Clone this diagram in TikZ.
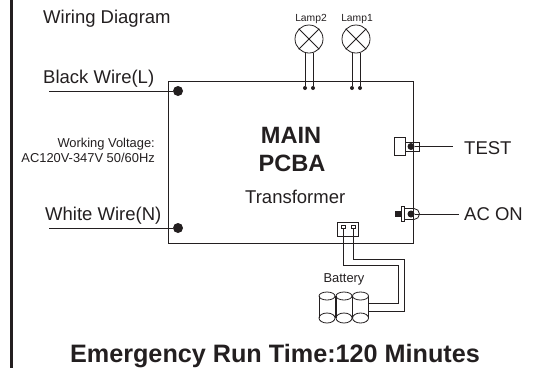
\documentclass[tikz,border=0pt]{standalone}
\usepackage{fontspec}
\setmainfont{Liberation Sans}
\definecolor{ink}{HTML}{231F20}
\begin{document}
\begin{tikzpicture}[x=1pt,y=-1pt,
    every node/.style={text=ink},
    wire/.style={draw=ink, line width=0.9pt},
    thinwire/.style={draw=ink, line width=0.8pt},
    terminal/.style={circle, fill=ink, inner sep=0pt, minimum size=10pt},
    solder/.style={circle, fill=ink, inner sep=0pt, minimum size=4pt},
    pin/.style={circle, fill=ink, inner sep=0pt, minimum size=7pt},
    lamp/.style={circle, draw=ink, line width=0.8pt, inner sep=0pt, minimum size=28pt},
    part/.style={rectangle, draw=ink, line width=0.7pt, inner sep=0pt},
    label/.style={inner sep=0pt, font=\fontsize{18.5}{21}\selectfont},
    smalllabel/.style={inner sep=0pt, anchor=base, font=\fontsize{10.3}{12}\selectfont},
    tinylabel/.style={inner sep=0pt, font=\fontsize{12.9}{15}\selectfont},
    title/.style={inner sep=0pt, align=center, font=\bfseries\fontsize{23.6}{28}\selectfont}]
   \useasboundingbox (0,0) rectangle (535,368);
   \node[rectangle, fill=ink, inner sep=0pt, minimum width=3pt, minimum height=368pt] (frame) at (11,184) {};
   % main board
   \node[part, line width=0.9pt, minimum width=245pt, minimum height=162pt] (board) at (290.5,162) {};
   \node[title] (main) at (291,135) {MAIN};
   \node[title] (pcba) at (292,163) {PCBA};
   \node[label, anchor=west] (transformer) at (245,197) {Transformer};
   % mains side
   \node[label, anchor=west] (wiring) at (43,18.5) {Wiring Diagram};
   \node[label, anchor=west] (black) at (43,79) {Black Wire(L)};
   \node[label, anchor=west] (white) at (45,216) {White Wire(N)};
   \node[terminal] (L) at (178,91) {};
   \node[terminal] (N) at (178,228) {};
   \coordinate (Lend) at (49,91);
   \coordinate (Nend) at (49,228);
   \draw[wire] (Lend) to (L);
   \draw[wire] (Nend) to (N);
   \node[tinylabel, align=right, anchor=east] (voltage) at (155,150) {Working Voltage:\\AC120V-347V 50/60Hz};
   % lamps
   \node[smalllabel] (lamp2text) at (311,21) {Lamp2};
   \node[smalllabel] (lamp1text) at (357,21) {Lamp1};
   \node[lamp] (lamp2) at (309,39) {};
   \node[lamp] (lamp1) at (356,39) {};
   \draw[thinwire] (lamp2.north west) to (lamp2.south east);
   \draw[thinwire] (lamp2.north east) to (lamp2.south west);
   \draw[thinwire] (lamp1.north west) to (lamp1.south east);
   \draw[thinwire] (lamp1.north east) to (lamp1.south west);
   \node[solder] (a) at (305,88) {};
   \node[solder] (b) at (313,88) {};
   \node[solder] (c) at (352,88) {};
   \node[solder] (d) at (360,88) {};
   \draw[thinwire] (a |- lamp2.south) to (a);
   \draw[thinwire] (b |- lamp2.south) to (b);
   \draw[thinwire] (c |- lamp1.south) to (c);
   \draw[thinwire] (d |- lamp1.south) to (d);
   % test switch
   \node[part, fill=white, minimum width=11pt, minimum height=18pt] (button) at (399.5,146) {};
   \node[part, minimum width=14pt, minimum height=9pt] (switch) at (412,146.5) {};
   \node[pin] (testpin) at (411,146.5) {};
   \node[label, anchor=west] (test) at (464,148) {TEST};
   \coordinate (testend) at (453,146.5);
   \draw[wire] (testpin) to (testend);
   % indicator
   \node[rectangle, fill=ink, inner sep=0pt, minimum width=6pt, minimum height=6pt] (leads) at (398,214) {};
   \node[part, fill=white, minimum width=3pt, minimum height=15pt] (flange) at (402.5,214) {};
   \node[pin] (acpin) at (411,214) {};
   \draw[thinwire] (flange.east |- 0,208.5) -- (414,208.5) arc (-90:90:5.5) -- (flange.east |- 0,219.5);
   \node[label, anchor=west] (acon) at (464,214) {AC ON};
   \coordinate (acend) at (459,214);
   \draw[wire] (acpin) to (acend);
   % battery connector
   \node[part, line width=1pt, minimum width=21pt, minimum height=14pt] (socket) at (347.5,229) {};
   \node[part, minimum width=4pt, minimum height=3pt] (s1) at (343,227) {};
   \node[part, minimum width=4pt, minimum height=3pt] (s2) at (353,227) {};
   \node[tinylabel] (battery) at (344,279) {Battery};
   % cells
   \foreach \x in {327,344,360.5} {
      \draw[thinwire] (\x-8,296) -- (\x-8,318);
      \draw[thinwire] (\x+8,296) -- (\x+8,318);
      \draw[thinwire] (\x,296) ellipse (8 and 4);
      \draw[thinwire] (\x,318) ellipse (8 and 5);
   }
   \coordinate (b1) at (368.5,303);
   \coordinate (b2) at (368.5,311);
   \draw[thinwire] (s1) |- (398,265) |- (b1);
   \draw[thinwire] (s2) |- (404.5,259) |- (b2);
   \node[title, font=\bfseries\fontsize{25.2}{30}\selectfont] (runtime) at (275,356) {Emergency Run Time:120 Minutes};
 \end{tikzpicture}
\end{document}
